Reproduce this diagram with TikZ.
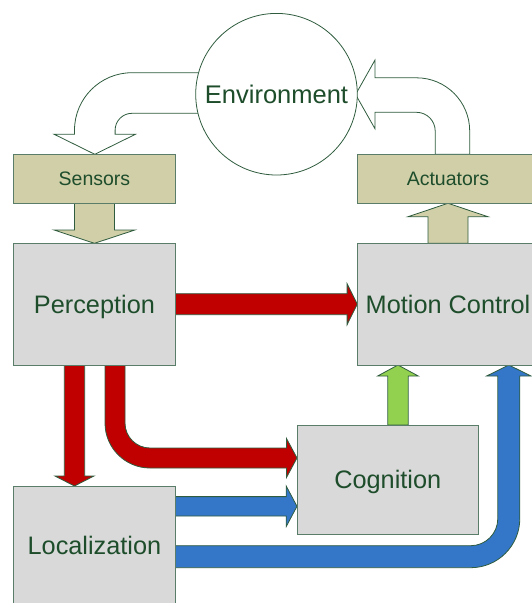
\documentclass[tikz,border=0pt]{standalone}
\usepackage{fontspec}
\setmainfont{Liberation Sans}
\usetikzlibrary{calc,backgrounds}

\definecolor{edgegreen}{HTML}{2F5C3E}
\definecolor{boxedge}{HTML}{5A7D69}
\definecolor{txtgreen}{HTML}{1E4D2B}
\definecolor{boxgray}{HTML}{D9D9D9}
\definecolor{boxtan}{HTML}{D0CFA8}
\definecolor{arrred}{HTML}{C00000}
\definecolor{arrblue}{HTML}{3476C8}
\definecolor{arrgreen}{HTML}{92D050}

% straight block arrow: #1 style, #2 start, #3 tip,
% #4 half shaft width, #5 half head width, #6 head length
\newcommand\blockarr[6]{%
  \coordinate (ba-base) at ($(#3)!#6!(#2)$);
  \draw[#1] ($(#2)!#4!90:(#3)$) -- ($(ba-base)!#4!90:(#3)$)
    -- ($(ba-base)!#5!90:(#3)$) -- (#3)
    -- ($(ba-base)!#5!-90:(#3)$) -- ($(ba-base)!#4!-90:(#3)$)
    -- ($(#2)!#4!-90:(#3)$) -- cycle;}

\begin{document}
\begin{tikzpicture}[x=1pt,y=-1pt,
  box/.style={draw=boxedge, line width=0.9pt, inner sep=0pt, outer sep=0pt,
    anchor=north west, text=txtgreen},
  graybox/.style={box, fill=boxgray, font=\fontsize{25.3}{30}\selectfont,
    text height=18.1pt, text depth=0pt},
  tanbox/.style={box, fill=boxtan, font=\fontsize{19.5}{23}\selectfont,
    text height=14pt, text depth=0pt},
  flow/.style={draw=edgegreen, line width=0.8pt, line join=miter},
  whitearrow/.style={flow, fill=white},
  tanarrow/.style={flow, fill=boxtan},
  redarrow/.style={flow, fill=arrred},
  bluearrow/.style={flow, fill=arrblue},
  greenarrow/.style={flow, fill=arrgreen}]

\useasboundingbox (0,0) rectangle (531,603);

% blocks
\node[tanbox, minimum width=161.9pt, minimum height=49pt] (sens) at (13.5,154.3) {Sensors};
\node[tanbox, minimum width=181.4pt, minimum height=49pt] (act) at (357.3,154.3) {Actuators};
\node[graybox, minimum width=161.9pt, minimum height=121.7pt] (perc) at (13.5,243.3) {Perception};
\node[graybox, minimum width=181.4pt, minimum height=121.7pt] (mc) at (357.3,243.3) {Motion Control};
\node[graybox, minimum width=181.5pt, minimum height=109.3pt] (cog) at (297,425) {Cognition};
\node[graybox, minimum width=161.9pt, minimum height=118pt] (loc) at (13.5,486) {Localization};
\node[circle, draw=edgegreen, line width=0.8pt, fill=white, minimum size=161.6pt,
  inner sep=0pt, text=txtgreen, font=\fontsize{25.5}{30}\selectfont,
  text height=18.2pt, text depth=0pt] (env) at (276.5,94.2) {Environment};

\begin{scope}[on background layer]
  % environment -> sensors
  \draw[whitearrow] (230,72.7) -- (132,72.7)
    arc[start angle=-90, end angle=-180, radius=57.5]
    -- (74.5,134.3) -- (54.2,134.3) -- (94.8,154.3) -- (135.4,134.3)
    -- (115.1,134.3) -- (115.1,130.2)
    arc[start angle=180, end angle=270, radius=16.9]
    -- (230,113.3) -- cycle;
  % actuators -> environment
  \draw[whitearrow] (469.7,154.3) -- (469.7,131)
    arc[start angle=0, end angle=-90, radius=53.2]
    -- (374.9,77.8) -- (374.9,60.2) -- (355.6,94.5) -- (374.9,128.6)
    -- (374.9,112.3) -- (416.5,112.3)
    arc[start angle=-90, end angle=0, radius=18.7]
    -- (435.2,154.3) -- cycle;

  % sensors -> perception, motion control -> actuators
  \blockarr{tanarrow}{sens.south}{perc.north}{20pt}{40.4pt}{13.3pt}
  \blockarr{tanarrow}{mc.north}{act.south}{20pt}{40pt}{13.4pt}

  % perception -> motion control
  \blockarr{redarrow}{perc.east}{mc.west}{10.5pt}{20.5pt}{10.2pt}

  % perception -> localization
  \coordinate (pl0) at ($(perc.south)+(-20,0)$);
  \coordinate (pl1) at ($(loc.north)+(-20,0)$);
  \blockarr{redarrow}{pl0}{pl1}{10.2pt}{19.5pt}{10pt}

  % perception -> cognition
  \coordinate (pc1) at ($(cog.west)+(0,-21.7)$);
  \draw[redarrow] (105,365) -- (105,423)
    arc[start angle=180, end angle=90, radius=45]
    -- (286.5,468) -- (286.5,477.5) -- (pc1) -- (286.5,438.5)
    -- (286.5,448) -- (150,448)
    arc[start angle=90, end angle=180, radius=25]
    -- (125,365) -- cycle;

  % localization -> cognition
  \coordinate (lc0) at ($(loc.north east)+(0,20.3)$);
  \coordinate (lc1) at (lc0 -| cog.west);
  \blockarr{bluearrow}{lc0}{lc1}{9.7pt}{20.3pt}{10.8pt}

  % localization -> motion control
  \draw[bluearrow] (175.4,545.7) -- (470.7,545.7)
    arc[start angle=90, end angle=0, radius=27.1]
    -- (497.8,376) -- (486.6,376) -- (508.8,365) -- (531,376)
    -- (519.8,376) -- (519.8,518.6)
    arc[start angle=0, end angle=90, radius=49.1]
    -- (175.4,567.7) -- cycle;

  % cognition -> motion control
  \coordinate (cm0) at ($(cog.north)+(10.2,0)$);
  \coordinate (cm1) at (cm0 |- mc.south);
  \blockarr{greenarrow}{cm0}{cm1}{10.2pt}{20.3pt}{11pt}
\end{scope}
\end{tikzpicture}
\end{document}
